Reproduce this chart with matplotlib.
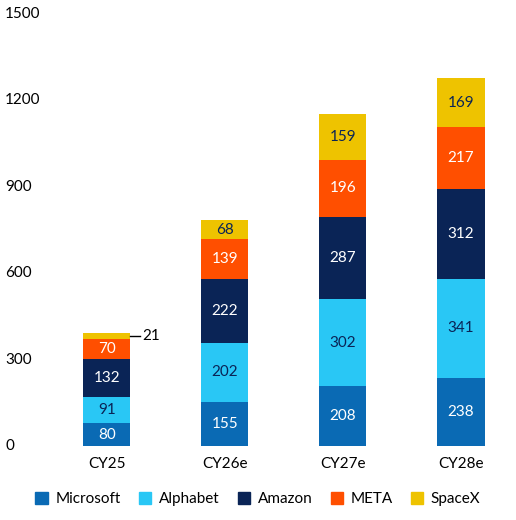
import matplotlib
matplotlib.use("Agg")
import matplotlib.pyplot as plt
import matplotlib.transforms as mtrans
from matplotlib.patches import Patch
import numpy as np

plt.rcParams['font.family'] = ['Lato', 'DejaVu Sans']

categories = ["CY25", "CY26e", "CY27e", "CY28e"]
series = ["Microsoft", "Alphabet", "Amazon", "META", "SpaceX"]
microsoft = [80, 155, 208, 238]
alphabet = [91, 202, 302, 341]
amazon = [132, 222, 287, 312]
meta = [70, 139, 196, 217]
spacex = [21, 68, 159, 169]
yticks = [0, 300, 600, 900, 1200, 1500]
values = [microsoft, alphabet, amazon, meta, spacex]
colors = ["#0a6ab4", "#29c7f5", "#0a2456", "#ff4f00", "#eec300"]
text_colors = ["white", "#0a2456", "white", "white", "#0a2456"]

fig = plt.figure(figsize=(5.16, 5.2), dpi=100)
ax = fig.add_axes([0.10, 0.142, 0.90, 0.831])
x = np.arange(len(categories))
bottom = np.zeros(len(categories))
w = 0.4
for vals, c, tc in zip(values, colors, text_colors):
    ax.bar(x, vals, w, bottom=bottom, color=c)
    for i, v in enumerate(vals):
        if v >= 40:
            ax.text(x[i], bottom[i] + v / 2, str(v), ha='center', va='center', color=tc, fontsize=11)
    bottom += np.array(vals)

ytop = bottom[0] - spacex[0] / 2
ax.plot([x[0] + w / 2, x[0] + w / 2 + 0.08], [ytop, ytop], color='black', lw=1)
ax.text(x[0] + w / 2 + 0.1, ytop, str(spacex[0]), ha='left', va='center', fontsize=11)

ax.set_xlim(-0.466, 3.466)
ax.set_ylim(0, 1500)
ax.set_yticks([])
tr = mtrans.blended_transform_factory(fig.transFigure, ax.transData)
for t in yticks:
    ax.text(5 / 516, t, str(t), transform=tr, ha='left', va='center', fontsize=11, clip_on=False)
ax.set_xticks(x)
ax.set_xticklabels(categories, fontsize=11)
ax.tick_params(axis='x', length=0, pad=8)
for s in ax.spines.values():
    s.set_visible(False)

handles = [Patch(color=c) for c in colors]
fig.legend(handles, series, loc='lower center', bbox_to_anchor=(0.5, 0.0), ncol=5,
           frameon=False, fontsize=11, handlelength=0.8, handleheight=0.8,
           handletextpad=0.5, columnspacing=1.2)
fig.savefig("out.png", dpi=100)
